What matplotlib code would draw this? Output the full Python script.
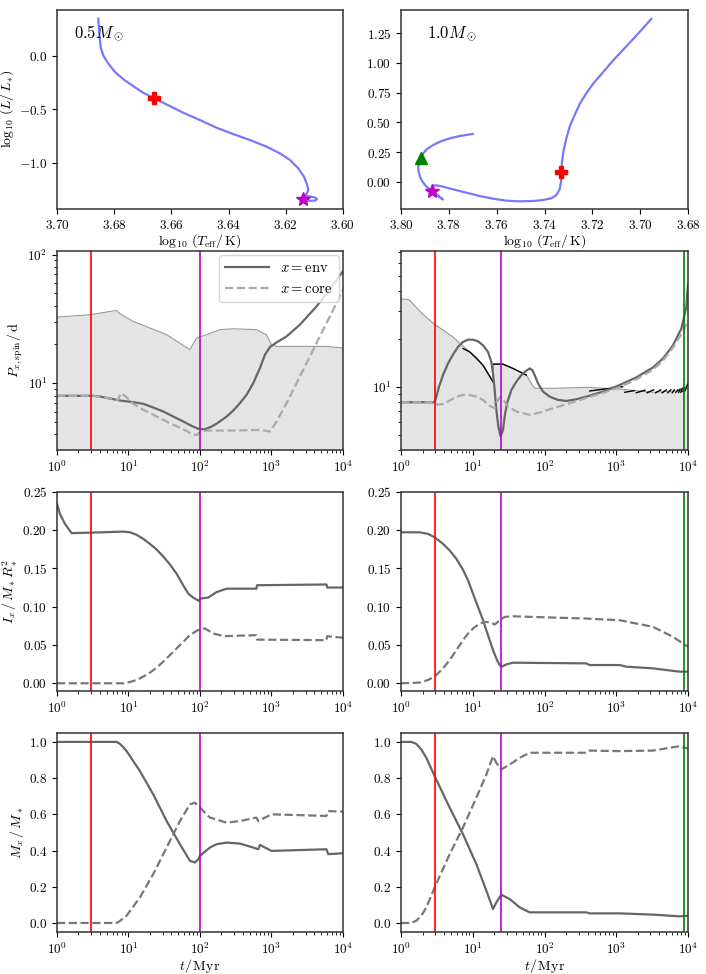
import numpy as np
import matplotlib
matplotlib.use("Agg")
import matplotlib.pyplot as plt
from matplotlib import ticker

plt.rcParams['font.family'] = 'serif'
plt.rcParams['font.serif'] = ['cmr10', 'DejaVu Serif']
plt.rcParams['mathtext.fontset'] = 'cm'
plt.rcParams['axes.formatter.use_mathtext'] = True
plt.rcParams['font.size'] = 10
plt.rcParams['xtick.labelsize'] = 9.5
plt.rcParams['ytick.labelsize'] = 9.5

# ---- HR tracks (log10 Teff, log10 L) ----
hr05_logT = [3.68555, 3.6852, 3.68473, 3.6838, 3.68205, 3.67972, 3.67681, 3.67331, 3.66981,
             3.66608, 3.66165, 3.65583, 3.65, 3.64417, 3.63834, 3.63252, 3.62669, 3.62203,
             3.61853, 3.61562, 3.61364, 3.61247, 3.61212, 3.6127, 3.61364, 3.61294, 3.61119,
             3.60962, 3.60909, 3.60962, 3.61154, 3.61329]
hr05_logL = [0.342, 0.203, 0.080, 0.0, -0.074, -0.152, -0.219, -0.284, -0.346,
             -0.395, -0.454, -0.531, -0.599, -0.670, -0.729, -0.784, -0.846, -0.908,
             -0.969, -1.047, -1.124, -1.201, -1.247, -1.284, -1.315, -1.303, -1.310,
             -1.319, -1.333, -1.346, -1.349, -1.343]
hr05_cross = (3.6661, -0.395)
hr05_star = (3.6139, -1.333)

hr10_logT = [3.69533, 3.69881, 3.70299, 3.70718, 3.71136, 3.71554, 3.71972, 3.72251, 3.72529,
             3.72738, 3.72948, 3.73087, 3.73198, 3.73268, 3.73296, 3.7331, 3.73366, 3.73505,
             3.73714, 3.74063, 3.74481, 3.75038, 3.75596, 3.76153, 3.76711, 3.77268, 3.77826,
             3.78244, 3.78523, 3.78662, 3.78704, 3.7869, 3.78495, 3.78256, 3.78495, 3.7869,
             3.78871, 3.78997, 3.79122, 3.79206, 3.79268, 3.79277, 3.79247, 3.79176, 3.79068,
             3.78913, 3.7865, 3.78328, 3.77951, 3.77533, 3.77002]
hr10_logL = [1.370, 1.2917, 1.1993, 1.1096, 1.0199, 0.9219, 0.8238, 0.7453, 0.6557,
             0.5632, 0.4651, 0.3671, 0.269, 0.1709, 0.0869, 0.0028, -0.0616, -0.1093,
             -0.1373, -0.1513, -0.1597, -0.1625, -0.1569, -0.1401, -0.1177, -0.0897, -0.0616,
             -0.0392, -0.028, -0.0308, -0.0504, -0.0757, -0.109, -0.1454, -0.109, -0.0757,
             -0.0504, -0.025, 0.0084, 0.0446, 0.0925, 0.1286, 0.168, 0.2043, 0.2412,
             0.2774, 0.311, 0.342, 0.3673, 0.3867, 0.4035]
hr10_cross = (3.733, 0.087)
hr10_star = (3.7869, -0.076)
hr10_tri = (3.7918, 0.204)

# ---- event times (Myr) ----
t_red = [3.0, 3.0]
t_mag = [100.0, 25.0]
t_green = 8800.0

# ---- 0.5 Msun spin periods (log10 t/Myr, log10 P/d) ----
p05_band_lt = [0, 0.46, 0.834, 0.881, 1.068, 1.534, 1.86, 1.90, 1.953, 2.093, 2.28, 2.466,
               2.79, 2.93, 3.0, 3.07, 3.77, 4.0]
p05_band_lp = [1.514, 1.532, 1.566, 1.54, 1.48, 1.377, 1.26, 1.30, 1.351, 1.377, 1.416, 1.423,
               1.416, 1.377, 1.30, 1.286, 1.286, 1.273]
p05_env_lt = [0, 0.5082, 0.6014, 0.7413, 0.8811, 1.0676, 1.2075, 1.3473, 1.4872, 1.627,
              1.7669, 1.8834, 1.9907, 2.0699, 2.1632, 2.2564, 2.373, 2.4662, 2.5594, 2.6527,
              2.7459, 2.8392, 2.9091, 2.979, 3.0723, 3.2121, 3.3986, 3.6317, 3.8648, 4.0]
p05_env_lp = [0.9013, 0.9013, 0.8961, 0.8805, 0.8649, 0.8519, 0.839, 0.8104, 0.7792, 0.7403,
              0.7013, 0.6675, 0.6416, 0.6416, 0.6623, 0.6935, 0.7403, 0.787, 0.8442, 0.9091,
              1.0, 1.1169, 1.2208, 1.2805, 1.3169, 1.3636, 1.4545, 1.5974, 1.7662, 1.8701]
p05_core_lt = [0, 0.5082, 0.7413, 0.8578, 0.8904, 0.951, 1.0676, 1.2075, 1.3939, 1.5804,
               1.7669, 1.8834, 1.9534, 2.0, 2.0932, 2.4662, 2.8392, 2.979, 3.0723, 3.2121,
               3.3986, 3.5851, 3.7716, 3.9114, 4.0]
p05_core_lp = [0.9013, 0.9013, 0.8805, 0.8701, 0.9221, 0.9013, 0.839, 0.7922, 0.7403, 0.6883,
               0.6416, 0.6052, 0.5948, 0.6182, 0.6312, 0.6312, 0.6364, 0.6234, 0.7013, 0.8442,
               1.0519, 1.2597, 1.4675, 1.6234, 1.7273]

# ---- 1.0 Msun spin periods ----
p10_band_lt = [0.0, 0.11, 0.19, 0.307, 0.469, 0.725, 0.957, 1.143, 1.282, 1.29, 1.42, 1.56,
               1.747, 1.817, 1.863, 2.12, 2.58, 3.05, 3.51, 3.93, 4.0]
p10_band_lp = [1.552, 1.548, 1.51, 1.454, 1.392, 1.3125, 1.219, 1.135, 1.031, 1.142, 1.142,
               1.115, 1.073, 1.021, 0.99, 0.99, 0.996, 0.985, 0.965, 0.975, 1.02]
p10_edge_lt = [0.864, 0.957, 1.05, 1.143, 1.282, np.nan, 1.29, 1.42, 1.56, 1.747, np.nan,
               2.63, 3.09, np.nan, 3.12, 3.25, np.nan, 3.28, 3.40, np.nan, 3.43, 3.52, np.nan,
               3.55, 3.62, np.nan, 3.64, 3.70, np.nan, 3.72, 3.76, np.nan, 3.78, 3.81, np.nan,
               3.83, 3.86, np.nan, 3.87, 3.89, np.nan, 3.90, 3.92, np.nan, 3.93, 3.95, np.nan,
               3.96, 4.0]
p10_edge_lp = [1.24, 1.219, 1.18, 1.135, 1.031, np.nan, 1.142, 1.142, 1.115, 1.073, np.nan,
               0.973, 1.0, np.nan, 0.965, 0.975, np.nan, 0.962, 0.978, np.nan, 0.962, 0.98, np.nan,
               0.962, 0.98, np.nan, 0.962, 0.98, np.nan, 0.962, 0.98, np.nan, 0.962, 0.98, np.nan,
               0.965, 0.98, np.nan, 0.965, 0.985, np.nan, 0.965, 0.99, np.nan, 0.97, 0.995, np.nan,
               0.975, 1.02]
p10_env_lt = [0, 0.469, 0.4925, 0.5296, 0.5854, 0.655, 0.7247, 0.7944, 0.8641, 0.9338, 1.0035,
              1.0732, 1.1429, 1.2125, 1.259, 1.2822, 1.3055, 1.3287, 1.3566, 1.3891, 1.4216,
              1.4448, 1.4774, 1.5378, 1.6074, 1.6771, 1.7468, 1.7933, 1.8304, 1.863, 1.9094,
              1.9791, 2.072, 2.1882, 2.3043, 2.4437, 2.583, 2.8153, 3.0476, 3.2799, 3.5122,
              3.6516, 3.7909, 3.9071, 3.9768, 4.0]
p10_env_lp = [0.902, 0.902, 0.9375, 1.0, 1.0729, 1.1458, 1.2021, 1.25, 1.2813, 1.2958, 1.2958,
              1.2854, 1.2604, 1.2188, 1.1563, 1.0833, 0.9792, 0.8542, 0.75, 0.6875, 0.7292,
              0.8125, 0.8958, 0.9792, 1.0313, 1.0729, 1.1, 1.1146, 1.1042, 1.0729, 1.0208,
              0.9688, 0.9375, 0.9167, 0.9104, 0.9208, 0.9375, 0.9688, 1.0104, 1.0583, 1.1208,
              1.1771, 1.2604, 1.3646, 1.5, 1.6458]
p10_core_lt = [0, 0.469, 0.5157, 0.5854, 0.6783, 0.7712, 0.8641, 0.957, 1.05, 1.1429, 1.2358,
               1.3055, 1.338, 1.3751, 1.4216, 1.4913, 1.6074, 1.7933, 1.9326, 2.1185, 2.3508,
               2.583, 2.8153, 3.0476, 3.2799, 3.5122, 3.6516, 3.7909, 3.9303, 4.0]
p10_core_lp = [0.902, 0.902, 0.8854, 0.8917, 0.9125, 0.9375, 0.9479, 0.9479, 0.9375, 0.9167,
               0.8792, 0.8646, 0.9063, 0.9333, 0.9208, 0.875, 0.8438, 0.8229, 0.8375, 0.8646,
               0.8958, 0.9292, 0.9604, 0.9979, 1.0458, 1.1063, 1.1646, 1.2458, 1.3458, 1.4167]

# ---- moments of inertia I_x / M R^2 ----
i05_env_lt = [0, 0.042, 0.112, 0.205, 0.60, 0.928, 1.021, 1.1142, 1.2075, 1.3007, 1.3939,
              1.4872, 1.5804, 1.6737, 1.7669, 1.8368, 1.9068, 1.9907, 2.0, 2.117, 2.233, 2.373,
              2.79, 2.80, 3.77, 3.78, 4.0]
i05_env = [0.234, 0.221, 0.208, 0.196, 0.197, 0.198, 0.1971, 0.1938, 0.1885, 0.182, 0.1746,
           0.1655, 0.1551, 0.143, 0.1278, 0.117, 0.1118, 0.1074, 0.1105, 0.112, 0.119, 0.1235,
           0.1235, 0.128, 0.129, 0.125, 0.125]
i05_core_lt = [0, 0.928, 1.021, 1.114, 1.2075, 1.3007, 1.3939, 1.4872, 1.5804, 1.6737, 1.7669,
               1.8601, 1.9534, 2.0, 2.07, 2.19, 2.33, 2.79, 2.80, 3.77, 3.78, 4.0]
i05_core = [0.0, 0.0, 0.0017, 0.0043, 0.0087, 0.0139, 0.0204, 0.0282, 0.0368, 0.0455, 0.0542,
            0.0629, 0.0685, 0.0702, 0.0715, 0.065, 0.0615, 0.0628, 0.057, 0.0563, 0.0615, 0.0594]
i10_env_lt = [0, 0.26, 0.3763, 0.4692, 0.5854, 0.6783, 0.7712, 0.8641, 0.9338, 1.0035, 1.0732,
              1.1429, 1.2125, 1.2822, 1.338, 1.3751, 1.4077, 1.4681, 1.561, 2.58, 2.63, 3.05,
              3.14, 3.51, 3.88, 4.0]
i10_env = [0.1971, 0.1971, 0.195, 0.1906, 0.182, 0.1733, 0.1625, 0.1482, 0.1343, 0.117, 0.0997,
           0.0823, 0.0628, 0.0433, 0.0303, 0.0238, 0.0217, 0.0247, 0.0269, 0.026, 0.0238, 0.0238,
           0.0217, 0.0195, 0.0152, 0.0152]
i10_core_lt = [0, 0.26, 0.3763, 0.4692, 0.5854, 0.6783, 0.7712, 0.8641, 0.9338, 1.0035, 1.0964,
               1.1893, 1.259, 1.3055, 1.3751, 1.4448, 1.561, 2.12, 2.58, 3.05, 3.51, 3.79, 4.0]
i10_core = [0.0, 0.0009, 0.0043, 0.0087, 0.0195, 0.0303, 0.0433, 0.0563, 0.065, 0.0715, 0.078,
            0.0802, 0.0789, 0.0767, 0.0823, 0.0867, 0.0875, 0.0858, 0.0845, 0.0823, 0.0737,
            0.0607, 0.0477]

# ---- mass fractions M_x / M ----
m05_env_lt = [0, 0.834, 0.88, 0.927, 0.974, 1.16, 1.347, 1.534, 1.72, 1.86, 1.93, 1.977, 2.0,
              2.14, 2.233, 2.373, 2.56, 2.746, 2.816, 2.84, 3.0, 3.77, 3.795, 4.0]
m05_env = [1.0, 1.0, 0.989, 0.971, 0.949, 0.839, 0.71, 0.563, 0.435, 0.343, 0.334, 0.352, 0.371,
           0.4165, 0.435, 0.444, 0.4385, 0.4165, 0.407, 0.431, 0.398, 0.407, 0.38, 0.385]
m05_core_lt = [0, 0.834, 0.88, 0.927, 0.974, 1.16, 1.347, 1.534, 1.72, 1.86, 1.93, 2.0, 2.14,
               2.373, 2.56, 2.79, 2.816, 3.0, 3.77, 3.795, 4.0]
m05_core = [0.0, 0.0, 0.011, 0.026, 0.04, 0.141, 0.27, 0.4165, 0.563, 0.655, 0.664, 0.637,
            0.582, 0.554, 0.563, 0.582, 0.563, 0.6, 0.591, 0.618, 0.615]
m10_env_lt = [0, 0.144, 0.2137, 0.2834, 0.3531, 0.469, 0.678, 0.864, 1.05, 1.19, 1.282, 1.329,
              1.398, 1.515, 1.654, 1.793, 2.58, 2.63, 3.05, 3.51, 3.88, 4.0]
m10_env = [1.0, 1.0, 0.989, 0.9578, 0.9119, 0.811, 0.637, 0.49, 0.325, 0.178, 0.077, 0.114,
           0.156, 0.132, 0.086, 0.0587, 0.0587, 0.053, 0.053, 0.046, 0.0367, 0.04]
m10_core_lt = [0, 0.144, 0.2137, 0.2834, 0.3531, 0.469, 0.678, 0.864, 1.05, 1.19, 1.282, 1.329,
               1.398, 1.515, 1.654, 1.793, 2.58, 2.63, 3.05, 3.51, 3.88, 4.0]
m10_core = [0.0, 0.0, 0.0128, 0.0404, 0.0862, 0.196, 0.38, 0.527, 0.692, 0.82, 0.921, 0.884,
            0.848, 0.875, 0.912, 0.94, 0.94, 0.952, 0.949, 0.952, 0.976, 0.963]

hr_col = '#7878ff'
env_col = '#666666'
core_col_p = '#aaaaaa'
core_col = '#777777'
band_col = '#e4e4e4'
mag_col = '#c000c0'

fig = plt.figure(figsize=(7.06, 9.74), dpi=100)
lefts = [0.0807, 0.568]
widths = [0.405, 0.4065]
bottoms = [0.7854, 0.538, 0.2906, 0.0431]
h = 0.2045
axs = [[fig.add_axes([lefts[c], bottoms[r], widths[c], h]) for c in range(2)] for r in range(4)]

# HR diagrams
ax = axs[0][0]
ax.plot(hr05_logT, hr05_logL, color=hr_col, lw=1.6)
ax.plot(*hr05_cross, 'P', color='r', ms=8)
ax.plot(*hr05_star, '*', color=mag_col, ms=10)
ax.set_xlim(3.70, 3.60)
ax.set_ylim(-1.425, 0.425)
ax.set_xticks([3.70, 3.68, 3.66, 3.64, 3.62, 3.60])
ax.set_yticks([0.0, -0.5, -1.0])
ax.xaxis.set_major_formatter(ticker.FormatStrFormatter('$%.2f$'))
ax.yaxis.set_major_formatter(ticker.FormatStrFormatter('$%.1f$'))
ax.text(0.06, 0.86, r'$0.5M_\odot$', transform=ax.transAxes, fontsize=12)
ax.set_xlabel(r'$\log_{10}\,(T_{\rm eff}/\,{\rm K})$', labelpad=0)
ax.set_ylabel(r'$\log_{10}\,(L/\,L_{*})$', labelpad=2)

ax = axs[0][1]
ax.plot(hr10_logT, hr10_logL, color=hr_col, lw=1.6)
ax.plot(*hr10_cross, 'P', color='r', ms=8)
ax.plot(*hr10_star, '*', color=mag_col, ms=10)
ax.plot(*hr10_tri, '^', color='g', ms=9)
ax.set_xlim(3.80, 3.68)
ax.set_ylim(-0.227, 1.446)
ax.set_xticks([3.80, 3.78, 3.76, 3.74, 3.72, 3.70, 3.68])
ax.set_yticks([0.0, 0.25, 0.5, 0.75, 1.0, 1.25])
ax.xaxis.set_major_formatter(ticker.FormatStrFormatter('$%.2f$'))
ax.yaxis.set_major_formatter(ticker.FormatStrFormatter('$%.2f$'))
ax.text(0.09, 0.86, r'$1.0M_\odot$', transform=ax.transAxes, fontsize=12)
ax.set_xlabel(r'$\log_{10}\,(T_{\rm eff}/\,{\rm K})$', labelpad=0)

# spin periods
ax = axs[1][0]
bt = 10 ** np.array(p05_band_lt)
bp = 10 ** np.array(p05_band_lp)
ax.fill_between(bt, 1.0, bp, color=band_col, lw=0)
ax.plot(bt, bp, color='#999999', lw=0.8)
ax.plot(10 ** np.array(p05_env_lt), 10 ** np.array(p05_env_lp), color=env_col, lw=1.6,
        label=r'$x={\rm env}$')
ax.plot(10 ** np.array(p05_core_lt), 10 ** np.array(p05_core_lp), color=core_col_p, lw=1.6,
        ls='--', label=r'$x={\rm core}$')
ax.set_yscale('log')
ax.set_ylim(3.02, 107)
ax.set_ylabel(r'$P_{x,{\rm spin}}/\,{\rm d}$', labelpad=2)
ax.legend(loc='upper right', fontsize=10.5, handlelength=3, borderaxespad=0.3)

ax = axs[1][1]
bt = 10 ** np.array(p10_band_lt)
bp = 10 ** np.array(p10_band_lp)
ax.fill_between(bt, 1.0, bp, color=band_col, lw=0)
ax.plot(bt, bp, color='#999999', lw=0.8)
ax.plot(10 ** np.array(p10_edge_lt), 10 ** np.array(p10_edge_lp), color='k', lw=1.0)
ax.plot(10 ** np.array(p10_env_lt), 10 ** np.array(p10_env_lp), color=env_col, lw=1.6)
ax.plot(10 ** np.array(p10_core_lt), 10 ** np.array(p10_core_lp), color=core_col_p, lw=1.6,
        ls='--')
ax.set_yscale('log')
ax.set_ylim(4.0, 71.5)

# moments of inertia
ax = axs[2][0]
ax.plot(10 ** np.array(i05_env_lt), i05_env, color=env_col, lw=1.6)
ax.plot(10 ** np.array(i05_core_lt), i05_core, color=core_col, lw=1.6, ls='--')
ax.set_ylabel(r'$I_x\,/\,M_*R_*^2$', labelpad=2)
ax = axs[2][1]
ax.plot(10 ** np.array(i10_env_lt), i10_env, color=env_col, lw=1.6)
ax.plot(10 ** np.array(i10_core_lt), i10_core, color=core_col, lw=1.6, ls='--')
for ax in axs[2]:
    ax.set_ylim(-0.01, 0.25)
    ax.set_yticks([0.0, 0.05, 0.10, 0.15, 0.20, 0.25])
    ax.yaxis.set_major_formatter(ticker.FormatStrFormatter('$%.2f$'))

# mass fractions
ax = axs[3][0]
ax.plot(10 ** np.array(m05_env_lt), m05_env, color=env_col, lw=1.6)
ax.plot(10 ** np.array(m05_core_lt), m05_core, color=core_col, lw=1.6, ls='--')
ax.set_ylabel(r'$M_x\,/\,M_*$', labelpad=2)
ax = axs[3][1]
ax.plot(10 ** np.array(m10_env_lt), m10_env, color=env_col, lw=1.6)
ax.plot(10 ** np.array(m10_core_lt), m10_core, color=core_col, lw=1.6, ls='--')
for ax in axs[3]:
    ax.set_ylim(-0.05, 1.05)
    ax.set_yticks([0.0, 0.2, 0.4, 0.6, 0.8, 1.0])
    ax.yaxis.set_major_formatter(ticker.FormatStrFormatter('$%.1f$'))
    ax.set_xlabel(r'$t/\,{\rm Myr}$', labelpad=0)

for r in range(1, 4):
    for c in range(2):
        ax = axs[r][c]
        ax.set_xscale('log')
        ax.set_xlim(1, 1e4)
        ax.axvline(t_red[c], color='r', lw=1.2)
        ax.axvline(t_mag[c], color=mag_col, lw=1.2)
        if c == 1:
            ax.axvline(t_green, color='g', lw=1.2)

for row in axs:
    for ax in row:
        for s in ax.spines.values():
            s.set_linewidth(1.1)
            s.set_color('#333333')

fig.savefig('out.png', dpi=100)
